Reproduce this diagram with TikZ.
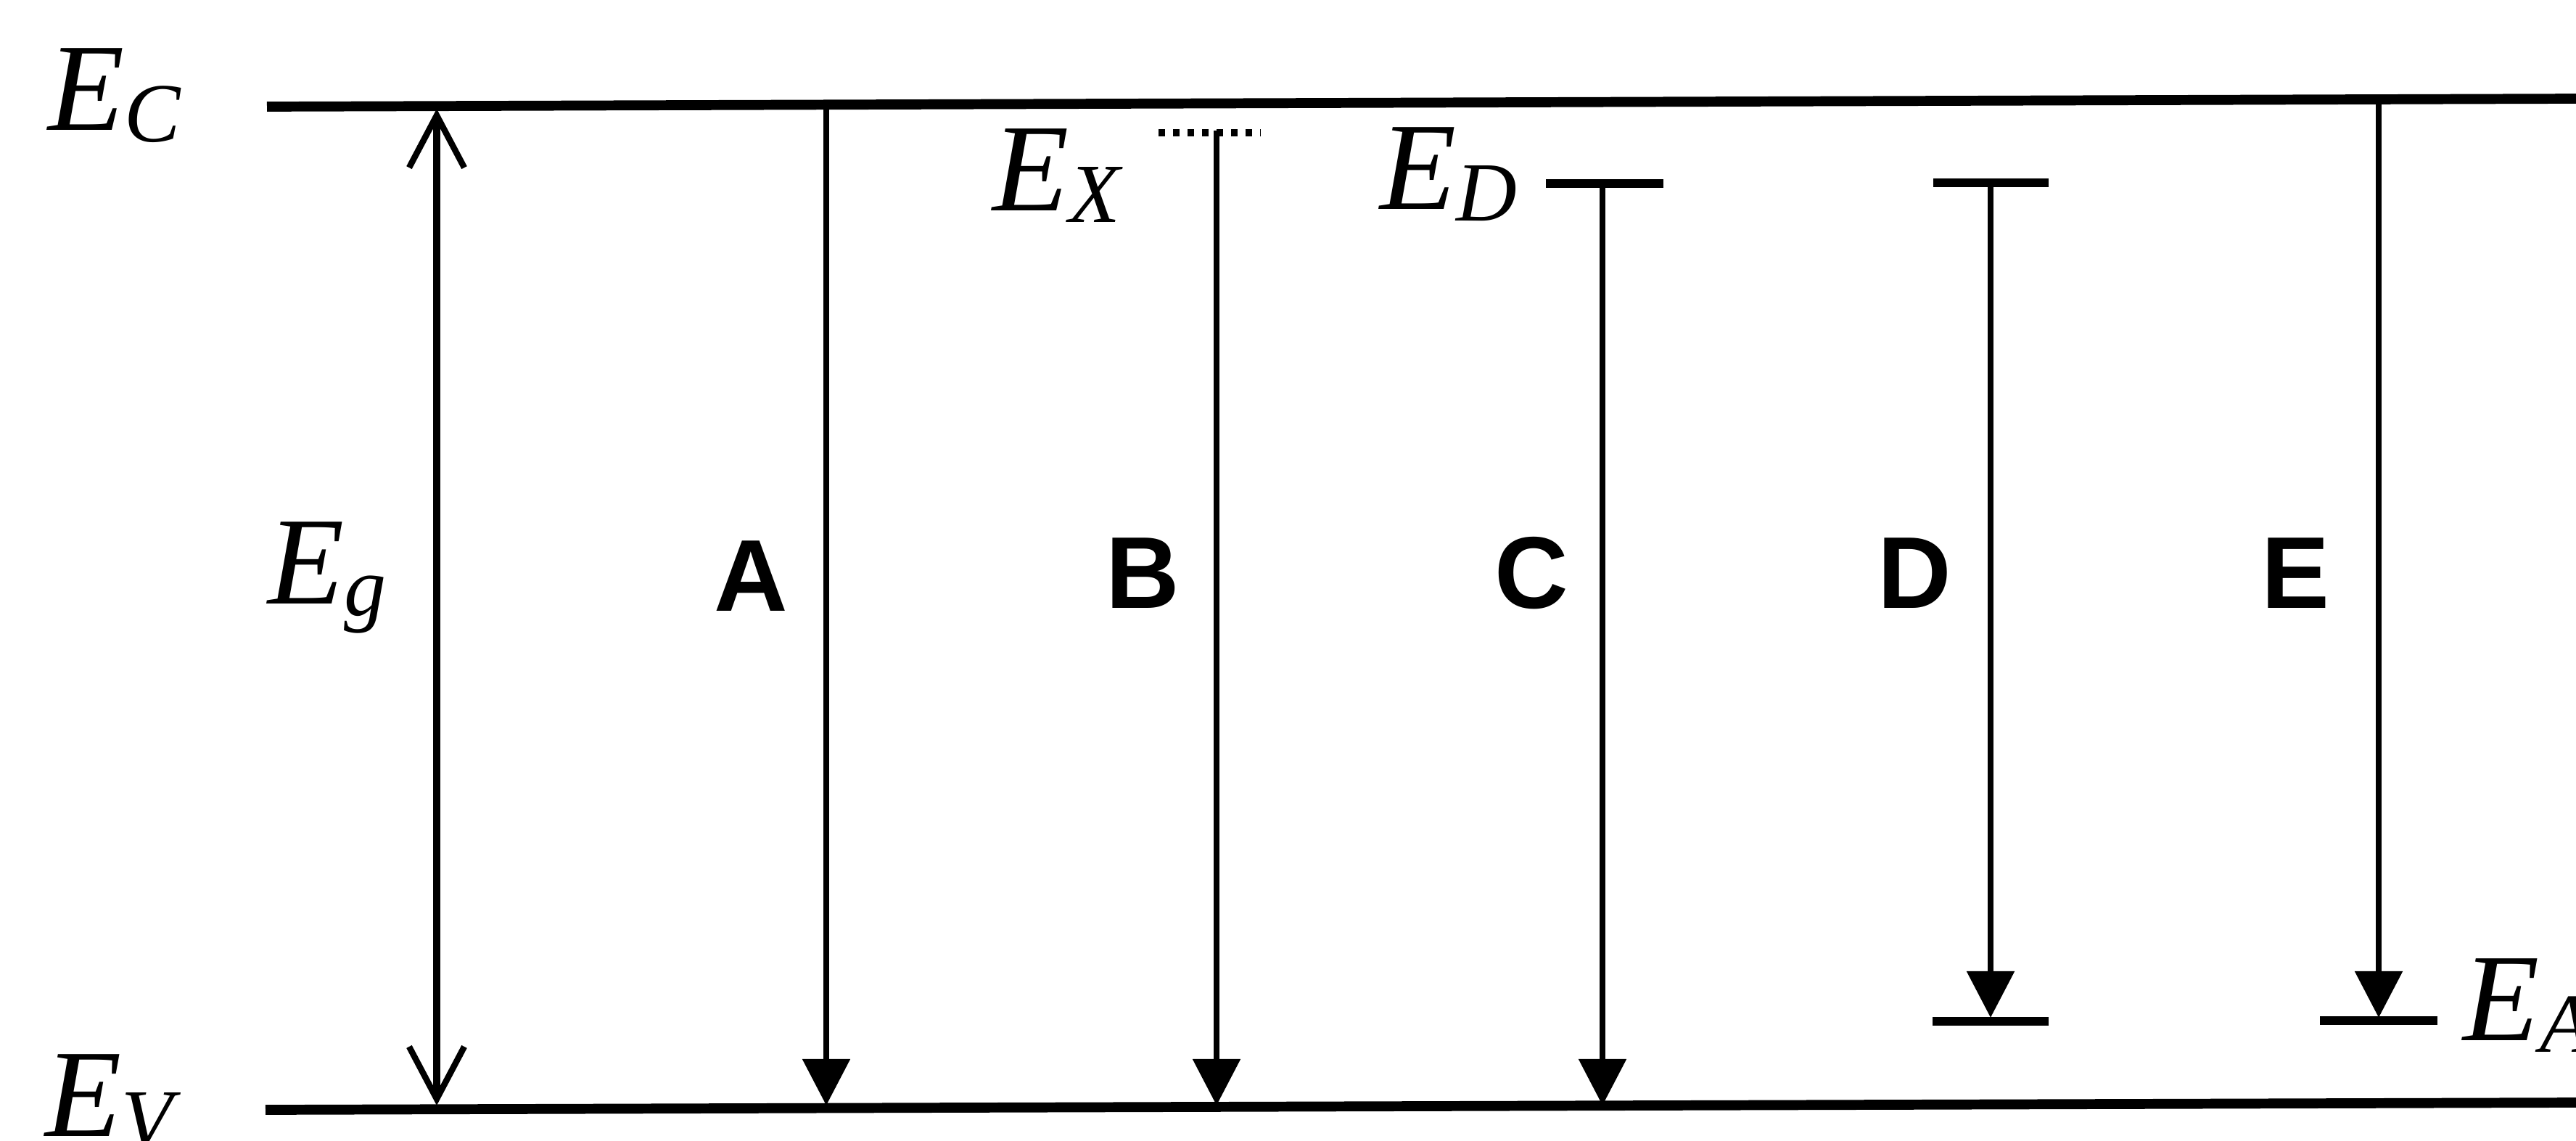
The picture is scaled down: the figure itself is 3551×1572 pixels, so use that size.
\documentclass[tikz,border=0pt]{standalone}
\usepackage{fontspec}
\setmainfont{Liberation Serif}
\newfontfamily\labsans{Liberation Sans}
\usetikzlibrary{arrows.meta}
\newcommand{\Elev}[1]{\textit{E}\raisebox{-0.16cm}{\fontsize{33}{33}\selectfont\textit{#1}}}
\tikzset{
  band/.style={line width=3.9pt},
  lev/.style={line width=3.2pt},
  trans/.style={line width=2.5pt, -{Triangle[width=0.64cm,length=0.64cm]}},
  gap/.style={line width=2.6pt, {Straight Barb[width=0.76cm,length=0.72cm,line width=2.4pt]}-{Straight Barb[width=0.76cm,length=0.72cm,line width=2.4pt]}},
  elab/.style={anchor=base west, inner sep=0pt, font=\fontsize{49}{52}\selectfont},
  tlab/.style={anchor=base, inner sep=0pt, font=\labsans\bfseries\fontsize{40}{44}\selectfont},
}
\begin{document}
\begin{tikzpicture}[x={(0.01cm,0)}, y={(0,-0.01cm)}]
\useasboundingbox (0,0) rectangle (3551,1572);
% band edges
\coordinate (ecL) at (368,147);
\coordinate (ecR) at (3551,136);
\coordinate (evL) at (366,1530);
\coordinate (evR) at (3551,1520);
\draw[band] (ecL) -- (ecR);
\draw[band] (evL) -- (evR);
% labels of band edges
\node[elab] (lEC) at (66,179) {\Elev{C}};
\node[elab] (lEV) at (62,1566) {\Elev{V}};
\node[elab] (lEg) at (369,832) {\Elev{g}};
% gap arrow
\coordinate (gT) at (602,150);
\coordinate (gB) at (602,1524);
\draw[gap] (gT) -- (gB);
% levels
\coordinate (xL) at (1597,183); \coordinate (xR) at (1738,183);
\draw[line width=3pt, dash pattern=on 2.6pt off 3.1pt] (xL) -- (xR);
\coordinate (dL) at (2131,253); \coordinate (dR) at (2293,253);
\draw[lev] (dL) -- (dR);
\coordinate (d2L) at (2665,252); \coordinate (d2R) at (2824,252);
\draw[lev] (d2L) -- (d2R);
\coordinate (aL) at (2664,1408); \coordinate (aR) at (2824,1408);
\draw[lev] (aL) -- (aR);
\coordinate (a2L) at (3198,1407); \coordinate (a2R) at (3360,1407);
\draw[lev] (a2L) -- (a2R);
\node[elab] (lEX) at (1368,290) {\Elev{X}};
\node[elab] (lED) at (1902,288) {\Elev{D}};
\node[elab] (lEA) at (3395,1434) {\Elev{A}};
% transitions
\coordinate (At) at (1139,142); \coordinate (Ab) at (1139,1524);
\coordinate (Bt) at (1677,180); \coordinate (Bb) at (1677,1524);
\coordinate (Ct) at (2209,253); \coordinate (Cb) at (2209,1524);
\coordinate (Dt) at (2744,252); \coordinate (Db) at (2744,1403);
\coordinate (Et) at (3279,137); \coordinate (Eb) at (3279,1403);
\draw[trans] (At) -- (Ab);
\draw[trans] (Bt) -- (Bb);
\draw[trans] (Ct) -- (Cb);
\draw[trans] (Dt) -- (Db);
\draw[trans] (Et) -- (Eb);
% transition letters
\node[tlab] (tA) at (1035,842) {A};
\node[tlab] (tB) at (1575,838) {B};
\node[tlab] (tC) at (2111,838) {C};
\node[tlab] (tD) at (2639,838) {D};
\node[tlab] (tE) at (3164,838) {E};
\end{tikzpicture}
\end{document}
